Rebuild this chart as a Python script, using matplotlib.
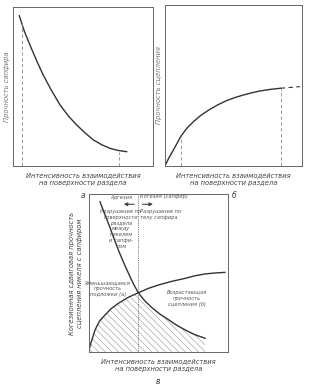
import numpy as np
import matplotlib
matplotlib.use("Agg")
import matplotlib.pyplot as plt

plt.rcParams['font.family'] = ['DejaVu Sans']
plt.rcParams['hatch.linewidth'] = 0.4

# Panel а: sapphire strength vs interaction intensity
a_x = [0.45, 0.8, 1.21, 1.7, 2.16, 2.75, 3.36, 3.95, 4.55, 5.15, 5.74, 6.35, 6.93, 7.5, 8.12]
a_y = [9.45, 8.5, 7.61, 6.6, 5.72, 4.75, 3.84, 3.15, 2.58, 2.08, 1.64, 1.33, 1.11, 0.98, 0.90]
a_marks = [0.62, 7.59]

# Panel б: adhesion strength vs interaction intensity
b_x = [0.0, 0.25, 0.61, 1.17, 1.6, 2.07, 2.65, 3.28, 3.9, 4.5, 5.1, 5.72, 6.3, 6.93, 7.7, 8.45]
b_y = [0.0, 0.45, 0.99, 1.86, 2.35, 2.75, 3.17, 3.52, 3.82, 4.06, 4.25, 4.41, 4.54, 4.66, 4.76, 4.83]
b_ext_x = [8.45, 9.85]
b_ext_y = [4.83, 4.93]
b_marks = [1.17, 8.45]

# Panel в: combined
c_dec_x = [0.79, 1.1, 1.39, 1.75, 2.11, 2.47, 2.83, 3.2, 3.55, 4.0, 4.51, 5.1, 5.71, 6.3, 6.91, 7.6, 8.35]
c_dec_y = [9.51, 8.8, 8.15, 7.3, 6.46, 5.7, 5.0, 4.3, 3.75, 3.25, 2.82, 2.4, 2.05, 1.7, 1.4, 1.1, 0.87]
c_inc_x = [0.0, 0.15, 0.43, 0.75, 1.15, 1.6, 2.11, 2.8, 3.55, 4.25, 4.99, 5.9, 6.91, 7.6, 8.35, 9.05, 9.78]
c_inc_y = [0.13, 0.6, 1.39, 1.95, 2.34, 2.75, 3.08, 3.45, 3.75, 4.02, 4.24, 4.46, 4.66, 4.82, 4.94, 5.0, 5.04]
c_cross = 3.55

W, H = 313, 387
fig = plt.figure(figsize=(W / 100, H / 100), dpi=100)
col = '#333333'
fs = 4.9
tfs = 3.7

def add_ax(l, r, t, b):
    ax = fig.add_axes([l / W, 1 - b / H, (r - l) / W, (b - t) / H])
    ax.set_xlim(0, 10)
    ax.set_ylim(0, 10)
    ax.set_xticks([])
    ax.set_yticks([])
    for s in ax.spines.values():
        s.set_color('#666666')
        s.set_linewidth(0.7)
    return ax

xlab = 'Интенсивность взаимодействия\nна поверхности раздела'
dash = (0, (4, 3))

# а
ax = add_ax(13, 153, 7, 166)
ax.plot(a_x, a_y, color=col, lw=1.0)
ax.vlines(a_marks[0], 0, a_y[0] - 0.4, color='#888888', lw=0.6, linestyles=dash)
ax.vlines(a_marks[1], 0, a_y[-1], color='#888888', lw=0.6, linestyles=dash)
ax.set_ylabel('Прочность сапфира', fontsize=fs, style='italic', color='#777777', labelpad=2)
ax.set_xlabel(xlab, fontsize=fs, style='italic', color='#444444', labelpad=4, linespacing=1.4)

# б
ax = add_ax(165, 302, 5, 166)
ax.plot(b_x, b_y, color=col, lw=1.0)
ax.plot(b_ext_x, b_ext_y, color=col, lw=0.8, linestyle=dash)
ax.vlines(b_marks[0], 0, b_y[3], color='#888888', lw=0.6, linestyles=dash)
ax.vlines(b_marks[1], 0, b_y[-1], color='#888888', lw=0.6, linestyles=dash)
ax.set_ylabel('Прочность сцепления', fontsize=fs, style='italic', color='#777777', labelpad=2)
ax.set_xlabel(xlab, fontsize=fs, style='italic', color='#444444', labelpad=4, linespacing=1.4)

fig.text(83 / W, 1 - 195 / H, 'а', fontsize=5.5, style='italic', color='#444444', ha='center', va='center')
fig.text(234 / W, 1 - 195 / H, 'б', fontsize=5.5, style='italic', color='#444444', ha='center', va='center')

# в
ax = add_ax(89, 228, 194, 352)
ax.plot(c_dec_x, c_dec_y, color=col, lw=1.0)
ax.plot(c_inc_x, c_inc_y, color=col, lw=1.0)
ax.axvline(c_cross, color='#555555', lw=0.6, linestyle=(0, (1, 1.2)))
gx = np.linspace(0, c_dec_x[-1], 300)
lower = np.minimum(np.interp(gx, c_inc_x, c_inc_y), np.interp(gx, c_dec_x, c_dec_y))
ax.fill_between(gx, 0, lower, facecolor='none', edgecolor='#999999', hatch='\\\\\\\\\\', lw=0)
ax.text(2.35, 9.85, 'Адгезия', fontsize=tfs, style='italic', color='#555555', ha='center', va='center')
ax.text(5.4, 9.85, 'Когезия (сапфир)', fontsize=tfs, style='italic', color='#555555', ha='center', va='center')
ax.annotate('', xy=(2.3, 9.35), xytext=(c_cross - 0.1, 9.35),
            arrowprops=dict(arrowstyle='-|>', color='#444444', lw=0.8, mutation_scale=5))
ax.annotate('', xy=(4.8, 9.35), xytext=(c_cross + 0.1, 9.35),
            arrowprops=dict(arrowstyle='-|>', color='#444444', lw=0.8, mutation_scale=5))
ax.text(2.3, 9.05, 'Разрушение по\nповерхности\nраздела\nмежду\nникелем\nи сапфи-\nром',
        fontsize=tfs, style='italic', color='#555555', ha='center', va='top', linespacing=1.2)
ax.text(3.7, 9.05, 'Разрушение по\nтелу сапфира', fontsize=tfs, style='italic', color='#555555',
        ha='left', va='top', linespacing=1.2)
ax.text(1.35, 4.0, 'Уменьшающаяся\nпрочность\nподложки (а)', fontsize=tfs, style='italic',
        color='#555555', ha='center', va='center', linespacing=1.2)
ax.text(7.05, 3.4, 'Возрастающая\nпрочность\nсцепления (б)', fontsize=tfs, style='italic',
        color='#555555', ha='center', va='center', linespacing=1.2)
ax.set_ylabel('Когезионная сдвиговая прочность\nсцепления никеля с сапфиром', fontsize=fs,
              style='italic', color='#444444', labelpad=4, linespacing=1.4)
ax.set_xlabel(xlab, fontsize=fs, style='italic', color='#444444', labelpad=4, linespacing=1.4)
fig.text(158 / W, 1 - 382 / H, 'в', fontsize=5.5, style='italic', color='#444444', ha='center', va='center')

fig.savefig('out.png', dpi=100, facecolor='white')
